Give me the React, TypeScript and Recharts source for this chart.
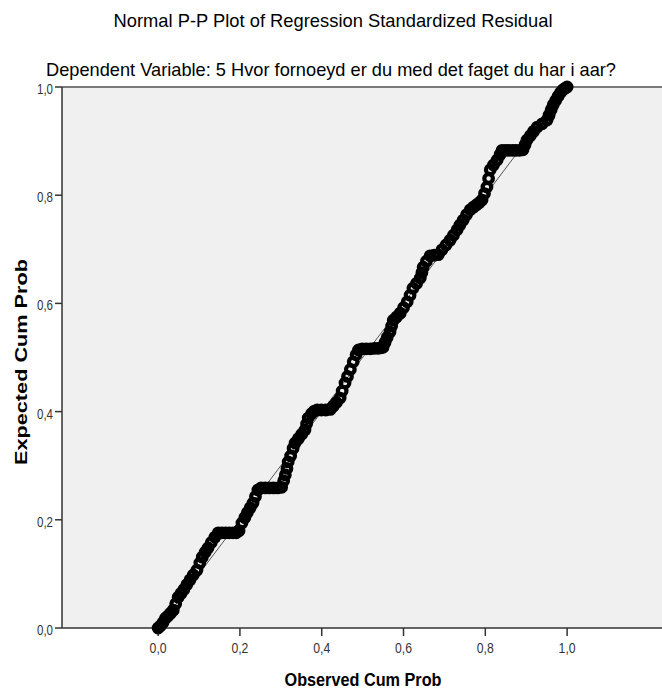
import React from "react";
import {
  ScatterChart,
  Scatter,
  XAxis,
  YAxis,
  CartesianGrid,
  ReferenceLine,
} from "recharts";

// observed cumulative probability (x) and expected cumulative probability (y)
const observed = [
  0.0, 0.006, 0.012, 0.018, 0.024, 0.03, 0.037, 0.043, 0.049, 0.056, 0.063, 0.07, 0.078, 0.086,
  0.095, 0.102, 0.108, 0.115, 0.122, 0.13, 0.139, 0.147, 0.156, 0.165, 0.174, 0.183, 0.191, 0.198,
  0.205, 0.212, 0.218, 0.225, 0.232, 0.238, 0.244, 0.252, 0.262, 0.272, 0.282, 0.292, 0.302, 0.307,
  0.311, 0.315, 0.318, 0.324, 0.33, 0.335, 0.343, 0.351, 0.359, 0.363, 0.367, 0.375, 0.382, 0.389,
  0.399, 0.41, 0.421, 0.428, 0.436, 0.445, 0.45, 0.457, 0.463, 0.47, 0.477, 0.484, 0.49, 0.499,
  0.509, 0.519, 0.529, 0.538, 0.545, 0.55, 0.555, 0.56, 0.567, 0.571, 0.575, 0.583, 0.592, 0.6,
  0.609, 0.616, 0.623, 0.632, 0.641, 0.645, 0.648, 0.656, 0.665, 0.675, 0.685, 0.694, 0.704, 0.714,
  0.722, 0.731, 0.738, 0.746, 0.754, 0.763, 0.771, 0.778, 0.785, 0.792, 0.798, 0.804, 0.808, 0.812,
  0.82, 0.829, 0.836, 0.841, 0.85, 0.858, 0.867, 0.875, 0.884, 0.892, 0.897, 0.902, 0.91, 0.918,
  0.927, 0.939, 0.951, 0.956, 0.961, 0.966, 0.972, 0.978, 0.984, 0.99, 0.996, 1.0,
];

const expected = [
  0.0, 0.004, 0.01, 0.018, 0.022, 0.027, 0.033, 0.045, 0.057, 0.064, 0.071, 0.08, 0.089, 0.098,
  0.107, 0.12, 0.131, 0.14, 0.148, 0.158, 0.168, 0.176, 0.176, 0.176, 0.176, 0.176, 0.176, 0.18,
  0.194, 0.204, 0.213, 0.222, 0.231, 0.243, 0.255, 0.259, 0.259, 0.259, 0.259, 0.259, 0.26, 0.272,
  0.283, 0.295, 0.307, 0.318, 0.332, 0.342, 0.35, 0.358, 0.366, 0.377, 0.388, 0.396, 0.401, 0.403,
  0.403, 0.403, 0.404, 0.41, 0.417, 0.425, 0.438, 0.453, 0.465, 0.478, 0.492, 0.505, 0.514, 0.516,
  0.516, 0.516, 0.517, 0.517, 0.518, 0.519, 0.528, 0.537, 0.547, 0.558, 0.569, 0.575, 0.582, 0.592,
  0.603, 0.615, 0.628, 0.637, 0.647, 0.657, 0.667, 0.678, 0.688, 0.689, 0.69, 0.699, 0.708, 0.717,
  0.726, 0.736, 0.745, 0.754, 0.764, 0.773, 0.778, 0.782, 0.786, 0.791, 0.803, 0.815, 0.831, 0.847,
  0.856, 0.865, 0.875, 0.883, 0.883, 0.883, 0.883, 0.883, 0.883, 0.884, 0.893, 0.902, 0.91, 0.918,
  0.926, 0.932, 0.939, 0.948, 0.958, 0.967, 0.975, 0.983, 0.99, 0.995, 0.998, 1.0,
];

const xTicks = [0, 0.2, 0.4, 0.6, 0.8, 1.0];
const yTicks = [0, 0.2, 0.4, 0.6, 0.8, 1.0];

const data = observed.map((o, i) => ({ observed: o, expected: expected[i] }));

const fmt = (v: number) => v.toFixed(1).replace(".", ",");
const tickFont = "'Liberation Sans Narrow', 'Liberation Sans', Arial, sans-serif";
const axisColor = "#333";

const XTick = (p: any) => (
  <text
    x={p.x}
    y={653}
    textAnchor="middle"
    fontSize={15}
    fill="#333"
    fontFamily={tickFont}
    textLength={17}
    lengthAdjust="spacingAndGlyphs"
  >
    {fmt(p.payload.value)}
  </text>
);

const YTick = (p: any) => (
  <text
    x={53}
    y={p.y + 7}
    textAnchor="end"
    fontSize={15}
    fill="#333"
    fontFamily={tickFont}
    textLength={16}
    lengthAdjust="spacingAndGlyphs"
  >
    {fmt(p.payload.value)}
  </text>
);

const Ring = (p: any) => (
  <circle cx={p.cx} cy={p.cy} r={4.3} fill="none" stroke="#000" strokeWidth={4.2} />
);

export default function App() {
  return (
    <div style={{ position: "absolute", left: 0, top: 0, width: 662, height: 691, background: "#fff" }}>
      <ScatterChart
        width={662}
        height={691}
        margin={{ top: 87, right: 0, bottom: 0, left: 0 }}
      >
        <CartesianGrid fill="#f0f0f0" horizontal={false} vertical={false} />
        <XAxis
          type="number"
          dataKey="observed"
          domain={[-0.235, 1.232]}
          ticks={xTicks}
          height={63}
          tickSize={8}
          tick={<XTick />}
          stroke={axisColor}
          strokeWidth={1.5}
        />
        <YAxis
          type="number"
          dataKey="expected"
          domain={[0, 1]}
          ticks={yTicks}
          width={62}
          tickSize={7}
          tick={<YTick />}
          stroke={axisColor}
          strokeWidth={1.5}
        />
        <ReferenceLine y={1} stroke="#7a7a7a" strokeWidth={2} />
        <ReferenceLine
          segment={[
            { x: 0, y: 0 },
            { x: 1, y: 1 },
          ]}
          stroke="#555"
          strokeWidth={1}
        />
        <Scatter data={data} shape={<Ring />} isAnimationActive={false} />
      </ScatterChart>
      <svg
        width={662}
        height={691}
        style={{ position: "absolute", left: 0, top: 0, pointerEvents: "none" }}
        fontFamily="'Liberation Sans', Arial, sans-serif"
      >
        <text x={333} y={27} textAnchor="middle" fontSize={19} fill="#000" textLength={439} lengthAdjust="spacingAndGlyphs">
          Normal P-P Plot of Regression Standardized Residual
        </text>
        <text x={331} y={76} textAnchor="middle" fontSize={19} fill="#000" textLength={570} lengthAdjust="spacingAndGlyphs">
          Dependent Variable: 5 Hvor fornoeyd er du med det faget du har i aar?
        </text>
        <text x={363} y={686} textAnchor="middle" fontSize={18} fontWeight="bold" fill="#000" textLength={157} lengthAdjust="spacingAndGlyphs">
          Observed Cum Prob
        </text>
        <text
          transform="translate(27,362) rotate(-90)"
          textAnchor="middle"
          fontSize={16}
          fontWeight="bold"
          fill="#000"
          textLength={206}
          lengthAdjust="spacingAndGlyphs"
        >
          Expected Cum Prob
        </text>
      </svg>
    </div>
  );
}
